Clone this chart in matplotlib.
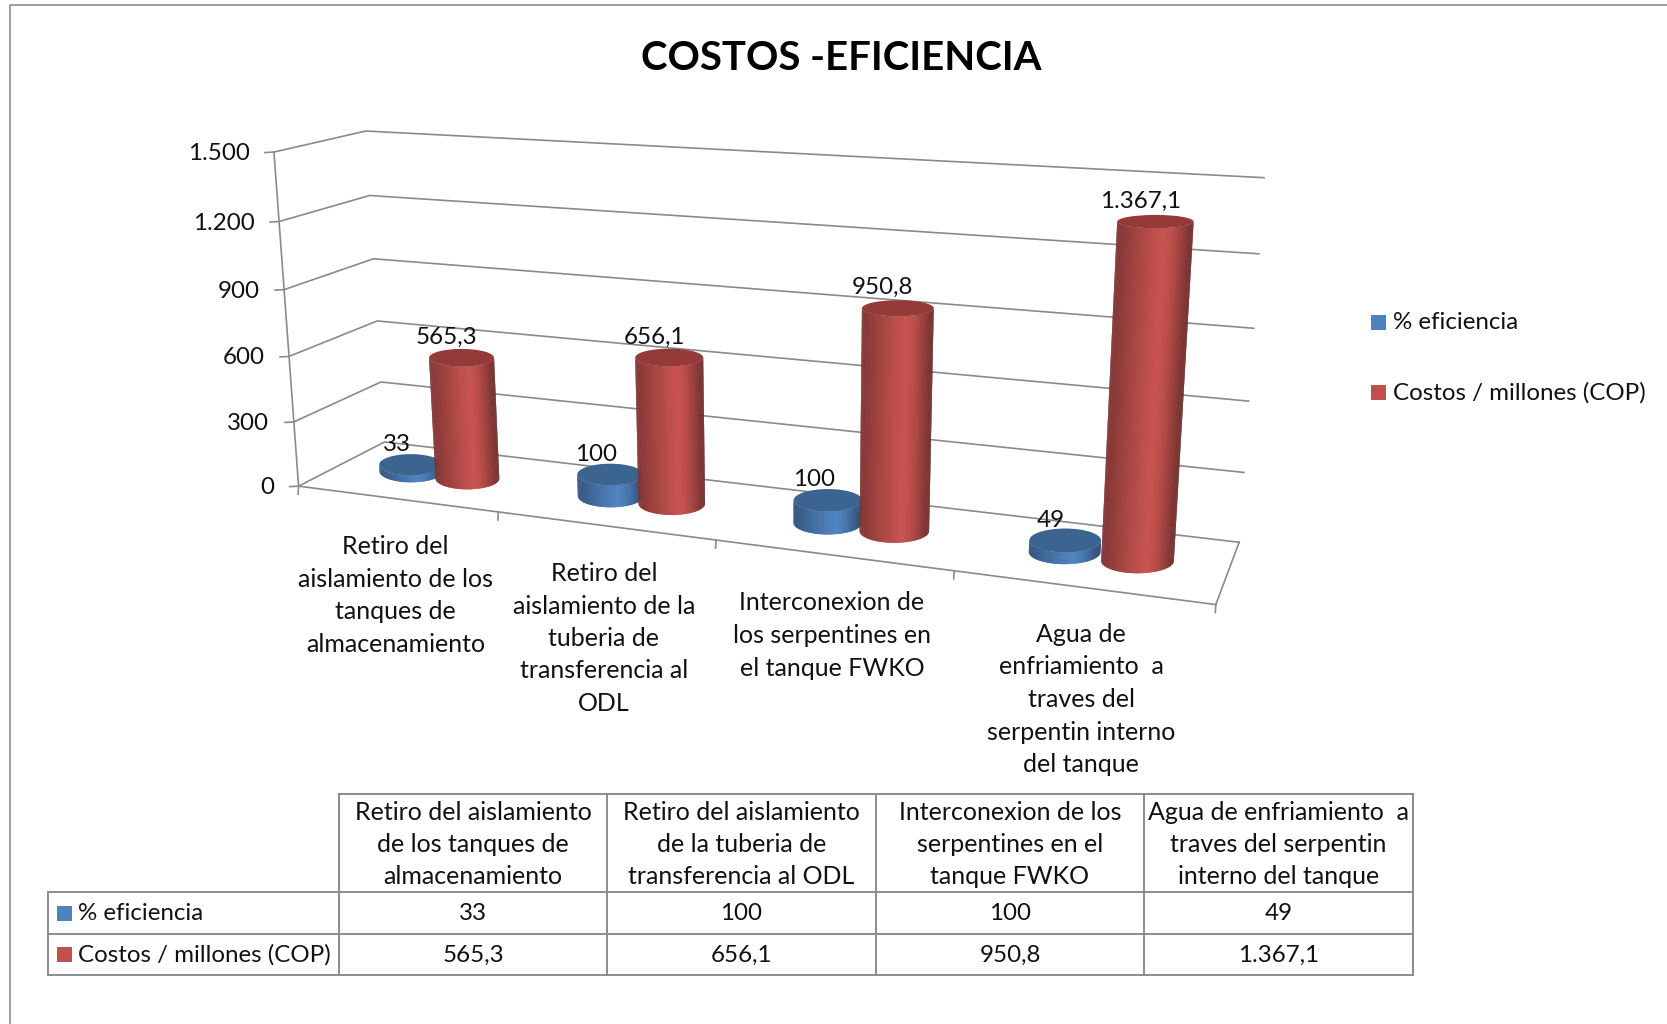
import numpy as np
import matplotlib
matplotlib.use("Agg")
import matplotlib.pyplot as plt
from matplotlib.patches import Polygon, Ellipse, Rectangle

plt.rcParams['font.family'] = ['Lato', 'DejaVu Sans']

W, H = 1667, 1024

categories_axis = ["Retiro del\naislamiento de los\ntanques de\nalmacenamiento",
                   "Retiro del\naislamiento de la\ntuberia de\ntransferencia al\nODL",
                   "Interconexion de\nlos serpentines en\nel tanque FWKO",
                   "Agua de\nenfriamiento  a\ntraves del\nserpentin interno\ndel tanque"]
categories_table = ["Retiro del aislamiento\nde los tanques de\nalmacenamiento",
                    "Retiro del aislamiento\nde la tuberia de\ntransferencia al ODL",
                    "Interconexion de los\nserpentines en el\ntanque FWKO",
                    "Agua de enfriamiento  a\ntraves del serpentin\ninterno del tanque"]
series_names = ["% eficiencia", "Costos / millones (COP)"]
eficiencia = [33, 100, 100, 49]
costos = [565.3, 656.1, 950.8, 1367.1]
eficiencia_txt = ["33", "100", "100", "49"]
costos_txt = ["565,3", "656,1", "950,8", "1.367,1"]
yticks = [0, 300, 600, 900, 1200, 1500]
ytick_txt = ["0", "300", "600", "900", "1.200", "1.500"]

BLUE = np.array([81, 132, 194]) / 255
RED = np.array([200, 84, 80]) / 255
BLUE_SW = "#4f81bd"
RED_SW = "#c0504d"
BLUE_TOP = "#3c6491"
RED_TOP = "#943a39"
GRID = "#8a8a8a"
TXT = "#111111"
FS = 18
FS_NUM = 17.4
FS_SER = 17.4
LS = 1.5
DY = 2.5  # Lato sits a bit high with va=center

# corners of the 3d box on the picture: (u, v, h/1500) -> pixel
calib = [
    (0, 0, 0, 299, 486), (0, 0, 1, 275, 152),
    (0, 1, 0, 385, 442), (0, 1, 1, 365, 131),
    (1, 1, 0, 1239, 542), (1, 1, 1, 1264, 178),
    (1, 0, 0, 1216, 604),
    (0, 0, .4, 288, 356), (0, 1, .4, 377.5, 321), (1, 1, .4, 1249, 401),
    (0.25, 0, 0, 498, 512), (0.5, 0, 0, 716, 541), (0.75, 0, 0, 954, 571),
]

def fit_projection(pts):
    A = []
    for u, v, h, x, y in pts:
        A.append([u, v, h, 1, 0, 0, 0, 0, -x*u, -x*v, -x*h, -x])
        A.append([0, 0, 0, 0, u, v, h, 1, -y*u, -y*v, -y*h, -y])
    _, _, vt = np.linalg.svd(np.array(A, dtype=float))
    return vt[-1].reshape(3, 4)

P = fit_projection(calib)

def proj(u, v, val):
    q = P @ np.array([u, v, val / 1500, 1.0])
    return q[0] / q[2], q[1] / q[2]

def depth(u, v, val):
    return (P @ np.array([u, v, val / 1500, 1.0]))[2]

def shade(base, t, peak=0.6):
    # t 0..1 across the cylinder, dark at the sides
    if t < peak:
        f = 0.62 + 0.38 * (t / peak) ** 0.8
    else:
        f = 1 - 0.47 * ((t - peak) / (1 - peak)) ** 1.6
    return np.clip(base * f, 0, 1)

def tilt(val):
    return 0.34 - val * 0.00012

V0 = 0.5
W_REF = depth(0.66 / 4, V0, 565)
RX = 32.5

def cylinder(ax, u0, val, base, top, z):
    cb = proj(u0, V0, 0)
    ct = proj(u0, V0, val)
    rb = RX * W_REF / depth(u0, V0, 0)
    rt = RX * W_REF / depth(u0, V0, val)
    ryb = rb * tilt(0)
    ryt = rt * tilt(val)
    n = 90
    th = np.linspace(np.pi, 0, n + 1)
    for i in range(n):
        # each strip runs a bit under the next one so no seams show
        a, b = th[i], th[min(i + 2, n)]
        t = (1 + np.cos((th[i] + th[i + 1]) / 2)) / 2
        c = shade(base, t)
        poly = [(cb[0] + rb * np.cos(a), cb[1] + ryb * np.sin(a)),
                (cb[0] + rb * np.cos(b), cb[1] + ryb * np.sin(b)),
                (ct[0] + rt * np.cos(b), ct[1] + ryt * np.sin(b)),
                (ct[0] + rt * np.cos(a), ct[1] + ryt * np.sin(a))]
        ax.add_patch(Polygon(poly, closed=True, fc=c, ec="none", zorder=z + i * 0.001))
    ax.add_patch(Ellipse(ct, 2 * rt, 2 * ryt, fc=top, ec="none", zorder=z + 0.2))
    return ct

fig = plt.figure(figsize=(W / 100, H / 100), dpi=100)
ax = fig.add_axes([0, 0, 1, 1])
ax.set_xlim(0, W)
ax.set_ylim(H, 0)
ax.axis("off")

# outer chart frame
ax.plot([10, 10, W], [H, 5, 5], color="#8c8c8c", lw=1.2, zorder=1)

ax.text(841, 58.5, "COSTOS -EFICIENCIA", fontsize=28.9, fontweight="bold", ha="center", va="center", color="black")

# walls and gridlines
for val, lab in zip(yticks, ytick_txt):
    a = proj(0, 0, val)
    b = proj(0, 1, val)
    c = proj(1, 1, val)
    ax.plot([a[0] - 9, a[0], b[0], c[0]], [a[1] + 0.5, a[1], b[1], c[1]], color=GRID, lw=1.2, zorder=2)
    ax.text(a[0] - 24.5, a[1] + 1.5, lab, fontsize=FS_NUM, ha="right", va="center", color=TXT)
a, b = proj(0, 0, 0), proj(0, 0, 1500)
ax.plot([a[0], b[0]], [a[1], b[1]], color=GRID, lw=1.2, zorder=2)

# floor
fl = proj(0, 0, 0); fr = proj(1, 0, 0); br = proj(1, 1, 0)
ax.plot([fl[0], fr[0], br[0]], [fl[1], fr[1], br[1]], color=GRID, lw=1.2, zorder=2)
for i in range(5):
    x, y = proj(i / 4, 0, 0)
    ax.plot([x, x - 0.5], [y, y + 8], color=GRID, lw=1.2, zorder=2)

# cylinders
for i in range(4):
    ct = cylinder(ax, (i + 0.36) / 4, eficiencia[i], BLUE, BLUE_TOP, 5 + i)
    ax.text(ct[0] - 14, ct[1] - 23 + DY, eficiencia_txt[i], fontsize=FS_NUM, ha="center", va="center", color=TXT, zorder=20)
    ct = cylinder(ax, (i + 0.65) / 4, costos[i], RED, RED_TOP, 5.5 + i)
    ax.text(ct[0] - 15, ct[1] - 23 + DY, costos_txt[i], fontsize=FS_NUM, ha="center", va="center", color=TXT, zorder=20)

# category labels under the floor
label_x = [395.5, 604, 832, 1081]
label_y = [593, 636, 633, 697]
for lab, x, y in zip(categories_axis, label_x, label_y):
    ax.text(x, y + DY, lab, fontsize=FS, ha="center", va="center", linespacing=LS, color=TXT)

# legend
leg_y = [322, 392]
for name, col, y in zip(series_names, [BLUE_SW, RED_SW], leg_y):
    ax.add_patch(Rectangle((1371, y - 7.5), 15, 15, fc=col, ec="none"))
    ax.text(1393, y + 0.5, name, fontsize=FS_SER, ha="left", va="center", color=TXT)

# data table
col_x = [48, 339, 607, 876, 1144, 1413]
row_y = [794, 892, 934, 975]
tc = "#8c8c8c"
for x in col_x[1:]:
    ax.plot([x, x], [row_y[0], row_y[-1]], color=tc, lw=1.4, zorder=3)
ax.plot([col_x[0], col_x[0]], [row_y[1], row_y[-1]], color=tc, lw=1.4, zorder=3)
ax.plot([col_x[1], col_x[-1]], [row_y[0], row_y[0]], color=tc, lw=1.4, zorder=3)
for y in row_y[1:]:
    ax.plot([col_x[0], col_x[-1]], [y, y], color=tc, lw=1.4, zorder=3)

for i in range(4):
    xc = (col_x[i + 1] + col_x[i + 2]) / 2
    ax.text(xc, (row_y[0] + row_y[1]) / 2 + 1.5, categories_table[i], fontsize=FS, ha="center", va="center", linespacing=LS, color=TXT)
    ax.text(xc, (row_y[1] + row_y[2]) / 2 + 0.5, eficiencia_txt[i], fontsize=FS_NUM, ha="center", va="center", color=TXT)
    ax.text(xc, (row_y[2] + row_y[3]) / 2 + 0.5, costos_txt[i], fontsize=FS_NUM, ha="center", va="center", color=TXT)

for name, col, r in zip(series_names, [BLUE_SW, RED_SW], [1, 2]):
    yc = (row_y[r] + row_y[r + 1]) / 2
    ax.add_patch(Rectangle((57, yc - 7.5), 15, 15, fc=col, ec="none"))
    ax.text(78, yc + 0.5, name, fontsize=FS_SER, ha="left", va="center", color=TXT)

fig.savefig("out.png", dpi=100, facecolor="white")
